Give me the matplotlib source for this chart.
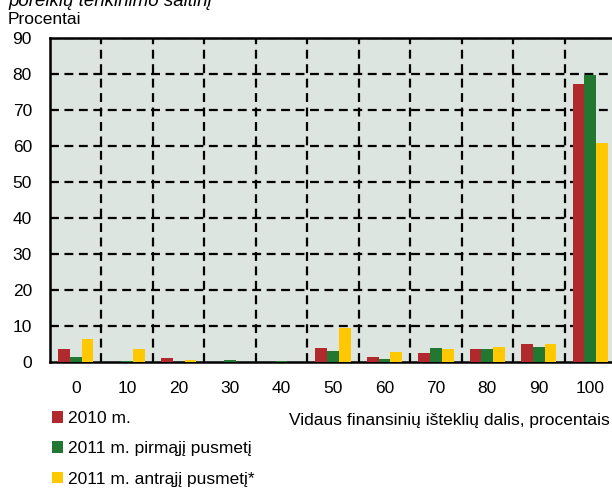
import matplotlib
matplotlib.use("Agg")
import matplotlib.pyplot as plt
import numpy as np
from matplotlib.patches import Patch

plt.rcParams['font.family'] = ['Liberation Sans', 'DejaVu Sans']

categories = ["0", "10", "20", "30", "40", "50", "60", "70", "80", "90", "100"]
s2010 = [3.6, 0.0, 1.0, 0.0, 0.0, 4.0, 1.3, 2.4, 3.6, 4.9, 77.1]
s2011_h1 = [1.4, 0.2, 0.0, 0.6, 0.2, 3.1, 0.9, 3.9, 3.6, 4.2, 79.6]
s2011_h2 = [6.5, 3.5, 0.5, 0.0, 0.0, 9.4, 2.8, 3.6, 4.2, 5.1, 60.9]
series_names = ["2010 m.", "2011 m. pirmąjį pusmetį", "2011 m. antrąjį pusmetį*"]
colors = ["#B0292D", "#237831", "#FFC800"]
yticks = [0, 10, 20, 30, 40, 50, 60, 70, 80, 90]

FS = 12.5

fig = plt.figure(figsize=(6.12, 4.91), dpi=100)
ax = fig.add_axes([50/612, 1-362/491, 566/612, 324/491])
ax.set_facecolor("#DDE5E0")

x = np.arange(len(categories))
w = 0.228
for i, (vals, c) in enumerate(zip([s2010, s2011_h1, s2011_h2], colors)):
    ax.bar(x + (i-1)*w, vals, width=w, color=c, zorder=3)

ax.set_xlim(-0.5, len(categories)-0.5)
ax.set_ylim(0, 90)
ax.set_yticks(yticks)
ax.set_xticks(x)
ax.set_xticklabels(categories)
ax.tick_params(axis='both', length=0, labelsize=FS)
ax.tick_params(axis='x', pad=14)
ax.tick_params(axis='y', pad=13)

for yv in yticks[1:]:
    ax.axhline(yv, color='black', lw=1.6, dashes=(4, 2.5), zorder=2)
for xv in np.arange(0.5, len(categories)-1, 1.0):
    ax.axvline(xv, color='black', lw=1.6, dashes=(4, 2.5), zorder=2)

for s in ['left', 'bottom', 'top']:
    ax.spines[s].set_linewidth(1.8)
    ax.spines[s].set_color('black')
ax.spines['right'].set_visible(False)

fig.text(8/612, 1-20/491, "Procentai", fontsize=FS, va='center', ha='left')
fig.text(8/612, 1-2/491, "poreikių tenkinimo šaltinį", fontsize=13.5, style='italic',
         va='center', ha='left')

handles = [Patch(facecolor=c, edgecolor='none') for c in colors]
fig.legend(handles, series_names, loc='upper left', bbox_to_anchor=(52/612, 1-411/491),
           frameon=False, fontsize=FS, handlelength=0.65, handleheight=0.65,
           handletextpad=0.25, labelspacing=0.88, borderpad=0, borderaxespad=0)

fig.text(610/612, 1-420/491, "Vidaus finansinių išteklių dalis, procentais",
         fontsize=FS, ha='right', va='center')

fig.savefig("out.png", dpi=100)
